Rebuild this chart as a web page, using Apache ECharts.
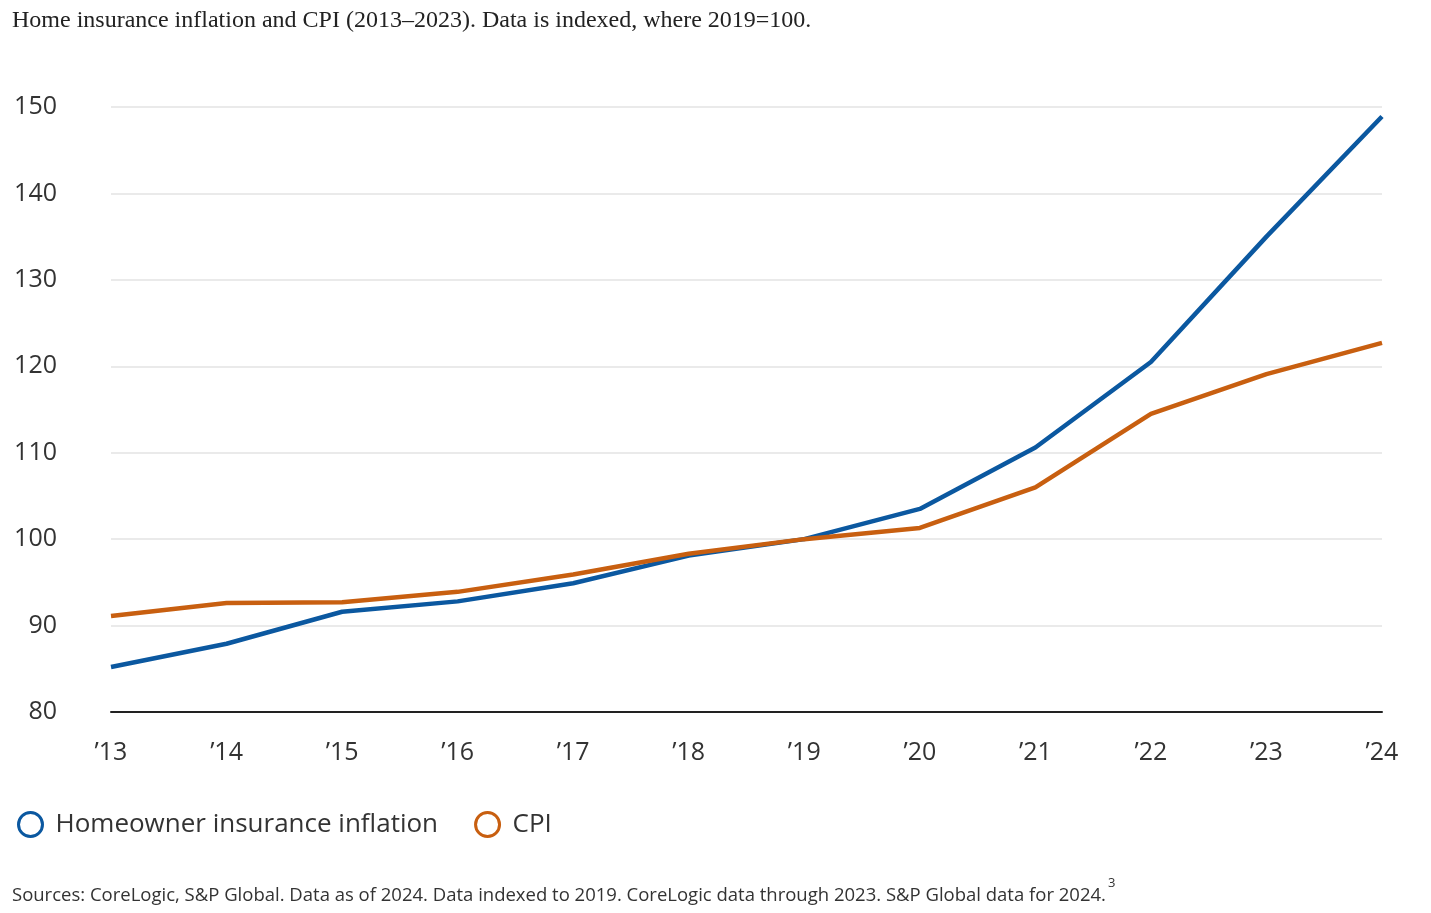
<!DOCTYPE html>
<html><head><meta charset="utf-8">
<script src="https://cdn.jsdelivr.net/npm/echarts@6/dist/echarts.min.js"></script>
<style>html,body{margin:0;padding:0;background:#fff}#c{width:1431px;height:913px}</style>
</head><body><div id="c"></div>
<script>
// values, indexed 2019=100
var years = ["’13","’14","’15","’16","’17","’18","’19","’20","’21","’22","’23","’24"];
var insurance = [85.2, 87.9, 91.6, 92.8, 94.9, 98.1, 100, 103.5, 110.6, 120.5, 135, 148.9];
var cpi = [91.1, 92.6, 92.7, 93.9, 95.9, 98.3, 100, 101.3, 106, 114.5, 119.1, 122.7];
var yTicks = [80, 90, 100, 110, 120, 130, 140, 150];

var chart = echarts.init(document.getElementById('c'));
chart.setOption({
  animation: false,
  title: [{
    text: 'Home insurance inflation and CPI (2013–2023). Data is indexed, where 2019=100.',
    left: 7, top: 4,
    textStyle: {fontFamily: 'Liberation Serif', fontSize: 24, fontWeight: 'normal', color: '#222'}
  }, {
    text: 'Sources: CoreLogic, S&P Global. Data as of 2024. Data indexed to 2019. CoreLogic data through 2023. S&P Global data for 2024.{s|3}',
    left: 7, top: 872,
    textStyle: {fontFamily: 'Open Sans', fontSize: 18.5, fontWeight: 'normal', color: '#333',
      rich: {s: {fontSize: 13, verticalAlign: 'top', padding: [0, 0, 24, 2], color: '#333'}}}
  }],
  legend: {
    left: 12, top: 806, itemGap: 36, itemWidth: 24, itemHeight: 24,
    icon: 'circle',
    textStyle: {fontFamily: 'Open Sans', fontSize: 26, color: '#333', padding: [0, 0, 0, 8]},
    data: [
      {name: 'Homeowner insurance inflation', itemStyle: {color: '#fff', borderColor: '#0b58a0', borderWidth: 3}},
      {name: 'CPI', itemStyle: {color: '#fff', borderColor: '#c85f10', borderWidth: 3}}
    ]
  },
  grid: {left: 111, right: 49, top: 107, bottom: 201},
  xAxis: {
    type: 'category', data: years, boundaryGap: false,
    axisLine: {lineStyle: {color: '#222', width: 2}},
    axisTick: {show: false},
    axisLabel: {margin: 28, fontFamily: 'Open Sans', fontSize: 25, color: '#333'}
  },
  yAxis: {
    type: 'value', min: yTicks[0], max: yTicks[yTicks.length - 1], interval: 10,
    axisLine: {show: false}, axisTick: {show: false},
    splitLine: {lineStyle: {color: '#e3e3e3', width: 1.5}},
    axisLabel: {margin: 54, fontFamily: 'Open Sans', fontSize: 25, color: '#333'}
  },
  series: [
    {name: 'Homeowner insurance inflation', type: 'line', data: insurance, symbol: 'none',
      lineStyle: {color: '#0b58a0', width: 4.5}, itemStyle: {color: '#0b58a0'}},
    {name: 'CPI', type: 'line', data: cpi, symbol: 'none',
      lineStyle: {color: '#c85f10', width: 4.5}, itemStyle: {color: '#c85f10'}}
  ]
});
</script></body></html>
